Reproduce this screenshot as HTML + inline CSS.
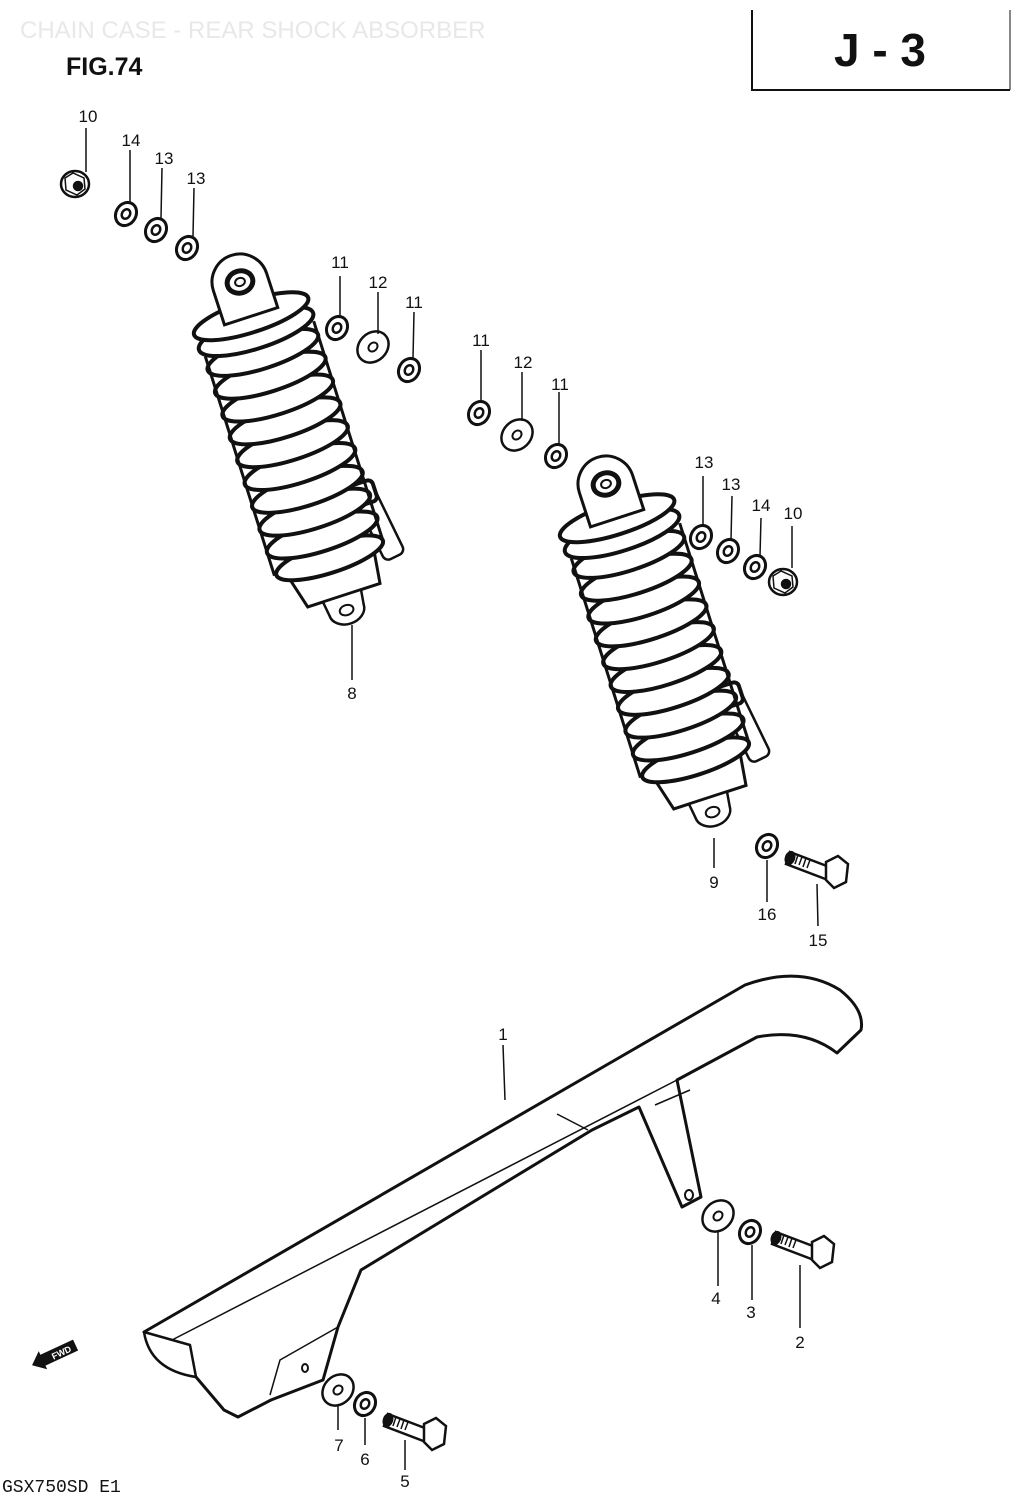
<!DOCTYPE html>
<html><head><meta charset="utf-8"><style>
html,body{margin:0;padding:0;background:#fff;}
svg{display:block;}
.l{font-family:"Liberation Sans",sans-serif;font-size:17px;fill:#111;text-anchor:middle;}
</style></head><body>
<svg width="1021" height="1500" viewBox="0 0 1021 1500" xmlns="http://www.w3.org/2000/svg">
<defs>
<g id="shock" fill="#fff" stroke="#111" stroke-width="2.5">
  <rect x="42" y="240" width="22" height="70" rx="6" transform="rotate(-8 53 240)"/>
  <rect x="36" y="228" width="28" height="22" rx="5" stroke-width="4"/>
  <path d="M-44 300 L44 300 L40 330 L-36 330 Z" stroke-width="3"/>
  <path d="M-20 330 L20 330 L18 345 A18 14 0 0 1 -18 345 Z"/>
  <ellipse cx="0" cy="345" rx="7" ry="5" stroke-width="2"/>
  <g stroke-width="4">
    <ellipse cx="0" cy="290" rx="56" ry="15"/>
    <ellipse cx="0" cy="266" rx="58" ry="16"/>
    <ellipse cx="0" cy="242" rx="58" ry="16"/>
    <ellipse cx="0" cy="218" rx="58" ry="16"/>
    <ellipse cx="0" cy="194" rx="58" ry="16"/>
    <ellipse cx="0" cy="170" rx="58" ry="16"/>
    <ellipse cx="0" cy="146" rx="58" ry="16"/>
    <ellipse cx="0" cy="122" rx="58" ry="16"/>
    <ellipse cx="0" cy="98" rx="58" ry="16"/>
    <ellipse cx="0" cy="74" rx="58" ry="16"/>
    <ellipse cx="0" cy="52" rx="60" ry="17"/>
  </g>
  <line x1="-56" y1="60" x2="-58" y2="290" stroke-width="3"/>
  <line x1="58" y1="60" x2="56" y2="290" stroke-width="3"/>
  <ellipse cx="0" cy="36" rx="60" ry="16" stroke-width="4"/>
  <path d="M-28 36 L-28 0 A28 28 0 0 1 28 0 L28 36 Z" stroke-width="3"/>
  <ellipse cx="0" cy="0" rx="13" ry="11" stroke-width="5"/>
  <ellipse cx="0" cy="0" rx="5" ry="4" stroke-width="2"/>
</g>
<g id="washer" fill="#fff" stroke="#111">
  <ellipse cx="0" cy="0" rx="10" ry="12" stroke-width="3" transform="rotate(30)"/>
  <ellipse cx="0" cy="0" rx="4" ry="5" stroke-width="2.5" transform="rotate(30)"/>
</g>
<g id="bwasher" fill="#fff" stroke="#111">
  <ellipse cx="0" cy="0" rx="14" ry="17" stroke-width="2.5" transform="rotate(45)"/>
  <ellipse cx="0" cy="0" rx="4" ry="5" stroke-width="2" transform="rotate(45)"/>
</g>
<g id="nut" fill="#fff" stroke="#111" stroke-width="2.5">
  <ellipse cx="0" cy="0" rx="14" ry="13"/>
  <path d="M-10 -6 L-2 -11 L9 -6 L10 5 L2 11 L-9 6 Z" stroke-width="1.5"/>
  <circle cx="3" cy="2" r="4" fill="#111"/>
</g>
<g id="bolt" fill="#fff" stroke="#111" stroke-width="2.5">
  <path d="M0 -6 L42 10 L38 22 L-4 6 Z"/>
  <g stroke-width="1.5"><line x1="4" y1="-4" x2="1" y2="4"/><line x1="8" y1="-3" x2="5" y2="6"/><line x1="12" y1="-1" x2="9" y2="7"/><line x1="16" y1="0" x2="13" y2="9"/><line x1="20" y1="2" x2="17" y2="10"/></g>
  <ellipse cx="0" cy="0" rx="4" ry="6" transform="rotate(20)" fill="#111"/>
  <path d="M36 4 L48 -2 L58 6 L56 24 L44 30 L36 22 Z"/>
</g>
</defs>

<text x="20" y="38" font-family="Liberation Sans,sans-serif" font-size="24" fill="#e8e8e8">CHAIN CASE - REAR SHOCK ABSORBER</text>
<text x="66" y="75" font-family="Liberation Sans,sans-serif" font-size="25" font-weight="bold" fill="#111">FIG.74</text>
<path d="M752 10 L752 90 L1010 90" fill="none" stroke="#111" stroke-width="2"/>
<line x1="1010" y1="10" x2="1010" y2="90" stroke="#111" stroke-width="1"/>
<text x="880" y="66" font-family="Liberation Sans,sans-serif" font-size="46" font-weight="bold" fill="#111" text-anchor="middle">J - 3</text>

<use href="#nut" x="75" y="184"/>
<use href="#washer" x="126" y="214"/>
<use href="#washer" x="156" y="230"/>
<use href="#washer" x="187" y="248"/>
<g stroke="#111" stroke-width="1.5">
<line x1="86" y1="128" x2="86" y2="172"/>
<line x1="130" y1="150" x2="130" y2="202"/>
<line x1="162" y1="168" x2="161" y2="218"/>
<line x1="194" y1="188" x2="193" y2="236"/>
</g>
<text class="l" x="88" y="122">10</text>
<text class="l" x="131" y="146">14</text>
<text class="l" x="164" y="164">13</text>
<text class="l" x="196" y="184">13</text>

<g transform="translate(240,282) rotate(-18)"><use href="#shock"/></g>
<line x1="352" y1="625" x2="352" y2="680" stroke="#111" stroke-width="1.5"/>
<text class="l" x="352" y="699">8</text>

<use href="#washer" x="337" y="328"/>
<use href="#bwasher" x="373" y="347"/>
<use href="#washer" x="409" y="370"/>
<g stroke="#111" stroke-width="1.5">
<line x1="340" y1="276" x2="340" y2="318"/>
<line x1="378" y1="292" x2="378" y2="334"/>
<line x1="414" y1="312" x2="413" y2="358"/>
</g>
<text class="l" x="340" y="268">11</text>
<text class="l" x="378" y="288">12</text>
<text class="l" x="414" y="308">11</text>

<use href="#washer" x="479" y="413"/>
<use href="#bwasher" x="517" y="435"/>
<use href="#washer" x="556" y="456"/>
<g stroke="#111" stroke-width="1.5">
<line x1="481" y1="350" x2="481" y2="402"/>
<line x1="522" y1="372" x2="522" y2="421"/>
<line x1="559" y1="392" x2="559" y2="444"/>
</g>
<text class="l" x="481" y="346">11</text>
<text class="l" x="523" y="368">12</text>
<text class="l" x="560" y="390">11</text>

<g transform="translate(606,484) rotate(-18)"><use href="#shock"/></g>
<line x1="714" y1="838" x2="714" y2="868" stroke="#111" stroke-width="1.5"/>
<text class="l" x="714" y="888">9</text>

<use href="#washer" x="701" y="537"/>
<use href="#washer" x="728" y="551"/>
<use href="#washer" x="755" y="567"/>
<use href="#nut" x="783" y="582"/>
<g stroke="#111" stroke-width="1.5">
<line x1="703" y1="476" x2="703" y2="526"/>
<line x1="732" y1="496" x2="731" y2="540"/>
<line x1="761" y1="518" x2="760" y2="556"/>
<line x1="792" y1="526" x2="792" y2="568"/>
</g>
<text class="l" x="704" y="468">13</text>
<text class="l" x="731" y="490">13</text>
<text class="l" x="761" y="511">14</text>
<text class="l" x="793" y="519">10</text>

<use href="#washer" x="767" y="846"/>
<use href="#bolt" x="790" y="858"/>
<g stroke="#111" stroke-width="1.5">
<line x1="767" y1="860" x2="767" y2="902"/>
<line x1="817" y1="884" x2="818" y2="926"/>
</g>
<text class="l" x="767" y="920">16</text>
<text class="l" x="818" y="946">15</text>

<g fill="#fff" stroke="#111" stroke-width="3" stroke-linejoin="round">
<path d="M144 1332 L745 985 Q800 965 840 990 Q865 1010 861 1030 L837 1053 Q805 1028 757 1037 L677 1080 L701 1197 L682 1207 L639 1107 L592 1130 L361 1270 L338 1327 L323 1380 L271 1400 L238 1417 L224 1410 L196 1377 Z"/>
<path d="M144 1332 Q150 1370 196 1377 L190 1345 Z" stroke-width="2.5"/>
</g>
<g fill="none" stroke="#111" stroke-width="1.5">
<path d="M172 1340 L677 1080"/>
<path d="M338 1327 L280 1360 L270 1395"/>
<path d="M557 1114 L588 1130"/>
<path d="M655 1105 L690 1090"/>
</g>
<ellipse cx="689" cy="1195" rx="4" ry="5" fill="none" stroke="#111" stroke-width="2"/>
<ellipse cx="305" cy="1368" rx="3" ry="4" fill="none" stroke="#111" stroke-width="2"/>
<line x1="503" y1="1045" x2="505" y2="1100" stroke="#111" stroke-width="1.5"/>
<text class="l" x="503" y="1040">1</text>

<use href="#bwasher" x="718" y="1216"/>
<use href="#washer" x="750" y="1232"/>
<use href="#bolt" x="776" y="1238"/>
<g stroke="#111" stroke-width="1.5">
<line x1="718" y1="1232" x2="718" y2="1286"/>
<line x1="752" y1="1245" x2="752" y2="1300"/>
<line x1="800" y1="1265" x2="800" y2="1328"/>
</g>
<text class="l" x="716" y="1304">4</text>
<text class="l" x="751" y="1318">3</text>
<text class="l" x="800" y="1348">2</text>

<use href="#bwasher" x="338" y="1390"/>
<use href="#washer" x="365" y="1404"/>
<use href="#bolt" x="388" y="1420"/>
<g stroke="#111" stroke-width="1.5">
<line x1="338" y1="1406" x2="338" y2="1430"/>
<line x1="365" y1="1418" x2="365" y2="1445"/>
<line x1="405" y1="1440" x2="405" y2="1470"/>
</g>
<text class="l" x="339" y="1451">7</text>
<text class="l" x="365" y="1465">6</text>
<text class="l" x="405" y="1487">5</text>

<g transform="translate(52,1356) rotate(-25)">
<path d="M-22 0 L-10 -10 L-10 -6 L26 -6 L26 6 L-10 6 L-10 10 Z" fill="#111"/>
<text x="10" y="4" font-family="Liberation Sans,sans-serif" font-size="9" fill="#fff" text-anchor="middle" font-weight="bold">FWD</text>
</g>

<text x="2" y="1492" font-family="Liberation Mono,monospace" font-size="18" fill="#111">GSX750SD E1</text>
</svg>
</body></html>
